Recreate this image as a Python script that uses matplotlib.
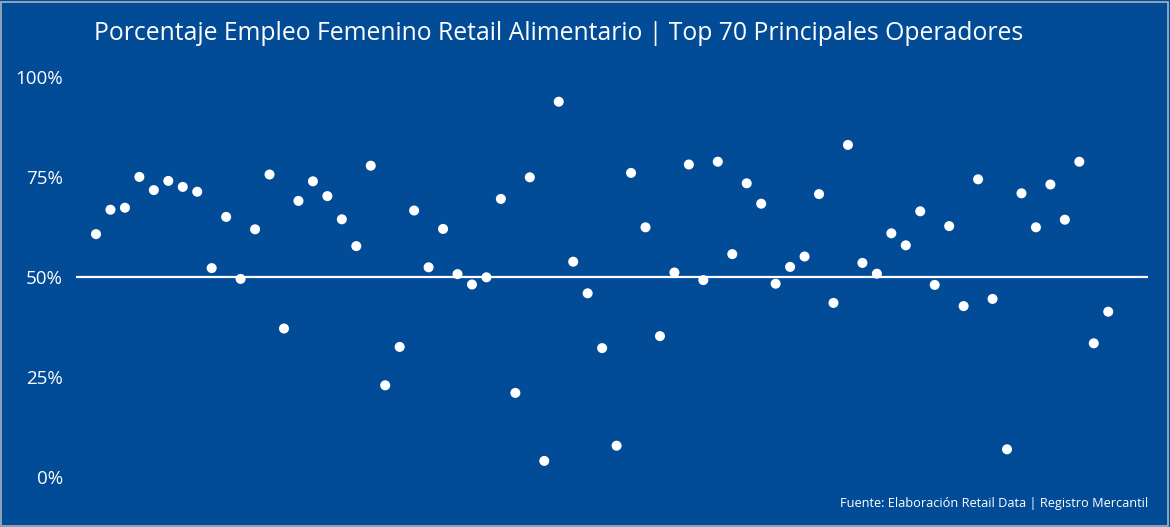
import numpy as np
import matplotlib.pyplot as plt
from matplotlib.patches import Rectangle

plt.rcParams['font.family'] = ['Open Sans', 'DejaVu Sans']

# porcentaje de empleo femenino por operador (orden del gráfico)
operadores = np.arange(1, 72)
pct_femenino = [
    60.8, 66.9, 67.4, 75.1, 71.8, 74.1, 72.6, 71.4, 52.3, 65.1,
    49.6, 62.0, 75.7, 37.2, 69.1, 74.0, 70.3, 64.5, 57.8, 77.9,
    23.0, 32.6, 66.7, 52.5, 62.1, 50.8, 48.2, 50.0, 69.6, 21.1,
    75.0, 4.1, 93.9, 53.9, 46.0, 32.3, 7.9, 76.1, 62.5, 35.3,
    51.2, 78.2, 49.3, 78.9, 55.8, 73.5, 68.4, 48.4, 52.6, 55.2,
    70.8, 43.6, 83.1, 53.6, 50.9, 61.0, 58.0, 66.5, 48.1, 62.8,
    42.8, 74.5, 44.6, 7.0, 71.0, 62.5, 73.2, 64.4, 78.9, 33.5,
    41.4,
]
ticks_y = [0, 25, 50, 75, 100]
etiquetas_y = ['0%', '25%', '50%', '75%', '100%']

fondo = '#024c97'

fig = plt.figure(figsize=(11.70, 5.27), dpi=100, facecolor=fondo)
ax = fig.add_axes([0.065, 0.0943, 0.9162, 0.759])
ax.set_facecolor(fondo)

ax.axhline(50, color='white', lw=1.6, zorder=1)
ax.scatter(operadores, pct_femenino, s=52, color='white', edgecolors='none',
           zorder=2, clip_on=False)

ax.set_xlim(-0.38, 73.75)
ax.set_ylim(0, 100)
ax.set_xticks([])
ax.set_yticks(ticks_y)
ax.set_yticklabels(etiquetas_y, color='white', fontsize=13.5)
ax.tick_params(axis='y', length=0, pad=9.4)
for s in ax.spines.values():
    s.set_visible(False)

fig.text(559 / 1170, 1 - 34 / 527,
         'Porcentaje Empleo Femenino Retail Alimentario | Top 70 Principales Operadores',
         color='white', fontsize=17.8, ha='center', va='center')
fig.text(1148 / 1170, 1 - 504 / 527,
         'Fuente: Elaboración Retail Data | Registro Mercantil',
         color='white', fontsize=9.2, ha='right', va='center')

# marco gris fino
fig.patches.append(Rectangle((0.001, 0.002), 0.997, 0.995, transform=fig.transFigure,
                             fill=False, edgecolor='#aab2c0', lw=1.2))

fig.savefig('out.png', dpi=100, facecolor=fondo)
